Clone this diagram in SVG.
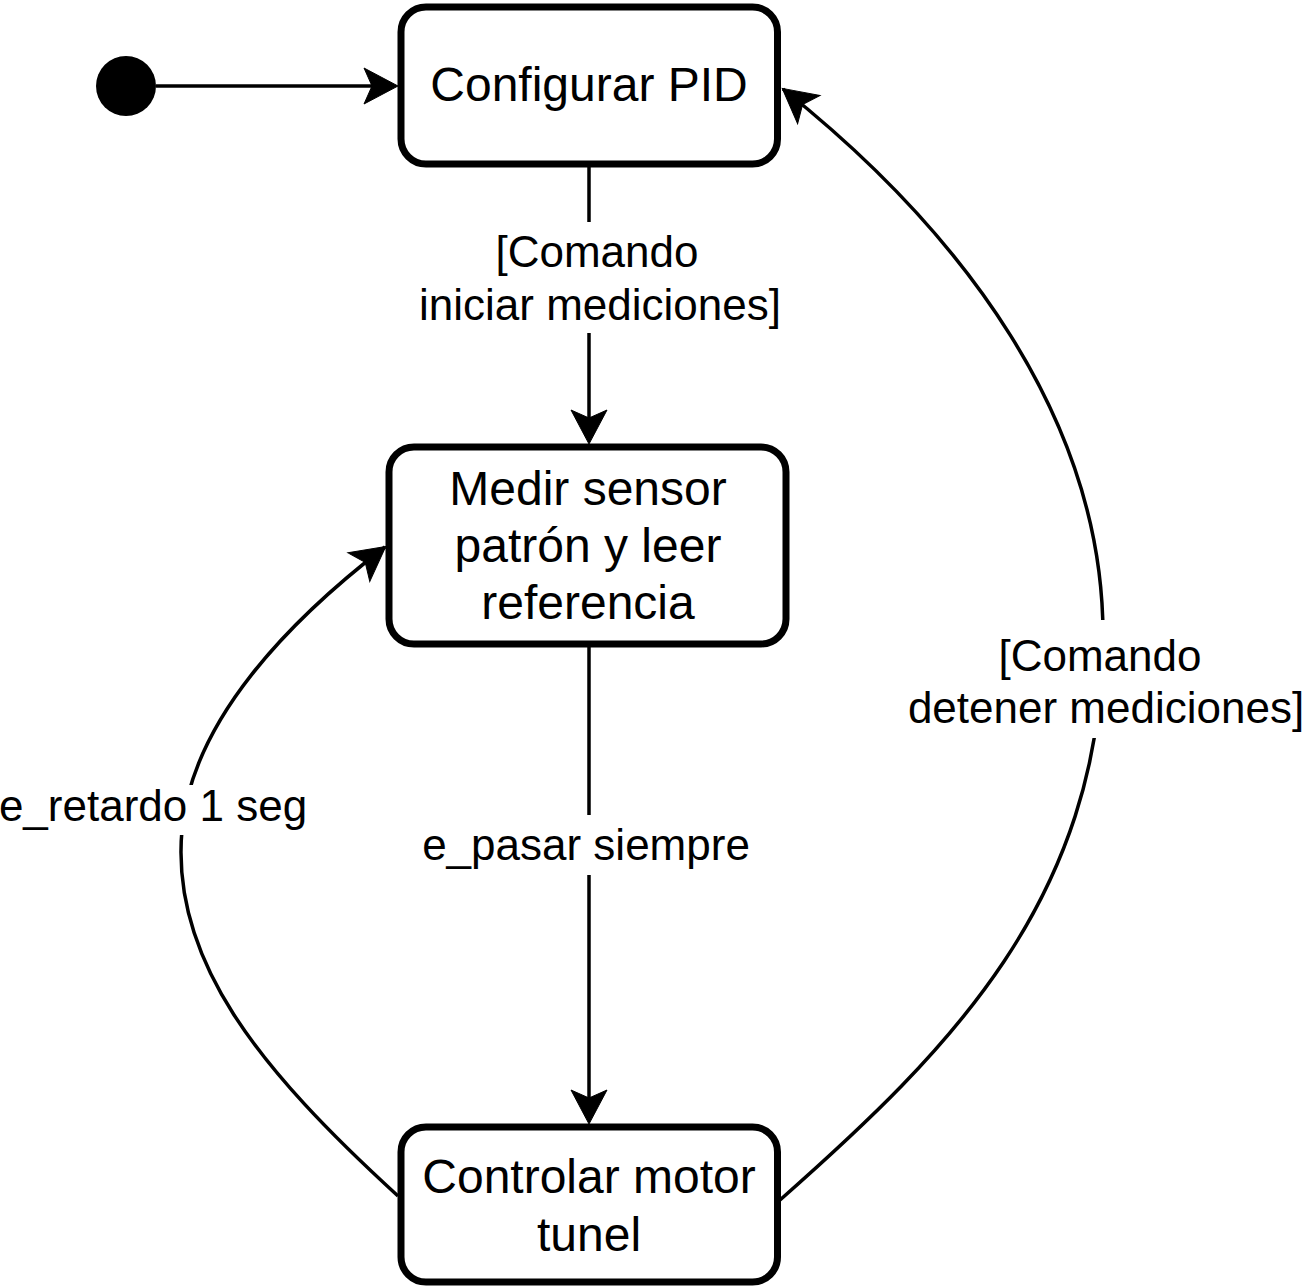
<svg xmlns="http://www.w3.org/2000/svg" width="1308" height="1288" viewBox="0 0 1308 1288">
<style>
.node{fill:#fff;stroke:#000;stroke-width:7}
.edge{fill:none;stroke:#000;stroke-width:3.5}
.head{fill:#000;stroke:#000;stroke-width:1;stroke-linejoin:miter}
.nt{font-family:"Liberation Sans",Arial,sans-serif;font-size:48px;fill:#000;text-anchor:middle}
.lt{font-family:"Liberation Sans",Arial,sans-serif;font-size:44px;fill:#000;text-anchor:middle}
.bg{fill:#fff}
</style>
<defs>
<path id="ah" class="head" d="M1,0 L-33,-18 L-25,0 L-33,18 Z"/>
</defs>
<g id="connectors">
<path class="edge" d="M156,86 L380,86"/>
<use href="#ah" transform="translate(397,86)"/>
<path class="edge" d="M589,164 L589,425"/>
<use href="#ah" transform="translate(589,443) rotate(90)"/>
<path class="edge" d="M589,644 L589,1105"/>
<use href="#ah" transform="translate(589,1123) rotate(90)"/>
<path class="edge" d="M398,1196 C260,1070 170,960 182,830 C192,720 290,620 385,547"/>
<use href="#ah" transform="translate(385,547) rotate(-37.5)"/>
<path class="edge" d="M780,1200 C950,1050 1100,900 1103,640 C1105,420 960,230 783,89"/>
<use href="#ah" transform="translate(783,89) rotate(218.5)"/>
</g>
<g id="labels">
<rect class="bg" x="420" y="222" width="362" height="111"/>
<text class="lt" x="597" y="267">[Comando</text>
<text class="lt" x="600" y="320">iniciar mediciones]</text>
<rect class="bg" x="425" y="815" width="320" height="60"/>
<text class="lt" x="586" y="860">e_pasar siempre</text>
<rect class="bg" x="0" y="785" width="308" height="50"/>
<text class="lt" x="153" y="821">e_retardo 1 seg</text>
<rect class="bg" x="908" y="620" width="398" height="118"/>
<text class="lt" x="1100" y="671">[Comando</text>
<text class="lt" x="1106" y="723">detener mediciones]</text>
</g>
<g id="start">
<circle cx="126" cy="86" r="30" fill="#000"/>
</g>
<g id="configurar-pid">
<rect class="node" x="401" y="7" width="376.5" height="157" rx="25" ry="25"/>
<text class="nt" x="589" y="101">Configurar PID</text>
</g>
<g id="medir-sensor">
<rect class="node" x="389" y="447" width="397" height="197" rx="25" ry="25"/>
<text class="nt" x="588" y="505">Medir sensor</text>
<text class="nt" x="588" y="562">patrón y leer</text>
<text class="nt" x="588" y="619">referencia</text>
</g>
<g id="controlar-motor">
<rect class="node" x="401" y="1127" width="376.5" height="155" rx="25" ry="25"/>
<text class="nt" x="589" y="1193">Controlar motor</text>
<text class="nt" x="589" y="1251">tunel</text>
</g>
</svg>
